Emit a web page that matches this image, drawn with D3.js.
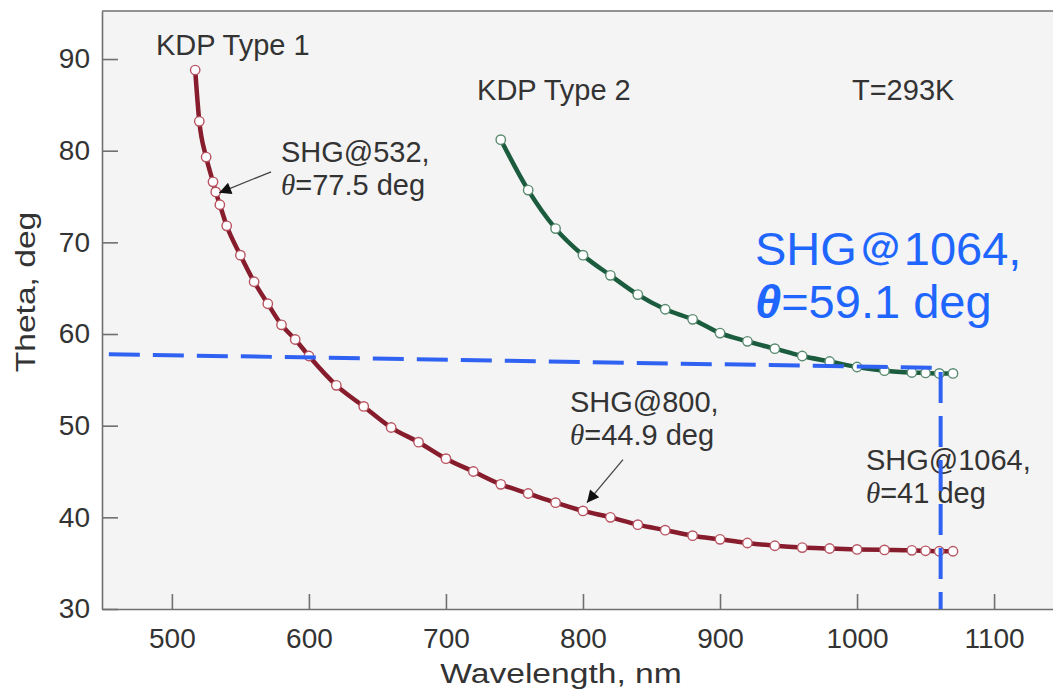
<!DOCTYPE html>
<head>
<meta charset="utf-8">
<style>
body, html {
  margin: 0;
  background: #fff;
  font-family: "Liberation Sans", Arial, sans-serif;
}
.axis path, .axis line {
  stroke: #707070;
  stroke-width: 1.6;
}
.axis text {
  font-size: 28px;
  fill: #333;
  font-family: "Liberation Sans", Arial, sans-serif;
}
.note {
  font-size: 29px;
  fill: #333;
}
.title {
  font-size: 28px;
  fill: #333;
}
.theta {
  font-family: "Liberation Serif", serif;
  font-style: italic;
}
.blue {
  font-size: 47px;
  fill: #1f66ff;
}
</style>
<script src="https://d3js.org/d3.v7.min.js"></script>
</head>
<body>
<script>

// ---- data ----
var type1Wl = [517, 520, 525, 530, 532, 535, 540, 550, 560, 570, 580, 590, 600, 620, 640, 660, 680, 700,
               720, 740, 760, 780, 800, 820, 840, 860, 880, 900, 920, 940, 960, 980, 1000, 1020, 1040, 1050, 1060, 1070];
var type1Theta = [88.8, 83.2, 79.3, 76.6, 75.5, 74.1, 71.8, 68.6, 65.7, 63.3, 61.0, 59.4, 57.6, 54.4, 52.1, 49.8, 48.2, 46.4,
                  45.0, 43.6, 42.6, 41.6, 40.7, 40.0, 39.2, 38.6, 38.0, 37.6, 37.2, 36.9, 36.7, 36.6, 36.5, 36.45, 36.4, 36.35, 36.3, 36.3];

var type2Wl = [740, 760, 780, 800, 820, 840, 860, 880, 900, 920, 940, 960, 980, 1000, 1020, 1040, 1050, 1060, 1070];
var type2Theta = [81.2, 75.7, 71.5, 68.6, 66.4, 64.3, 62.7, 61.6, 60.1, 59.2, 58.4, 57.6, 57.0, 56.4, 56.0, 55.8, 55.75, 55.7, 55.7];

var xTicks = [500, 600, 700, 800, 900, 1000, 1100];
var yTicks = [30, 40, 50, 60, 70, 80, 90];

// reading guide (blue dashes), in wavelength / theta
var guideWl = [454, 1061, 1061];
var guideTheta = [57.8, 56.3, 30];

// text notes: [wavelength, theta] of the first baseline
var notes = [
  {wl: 488.4, th: 90.4, lines: ["KDP Type 1"]},
  {wl: 722.7, th: 85.5, lines: ["KDP Type 2"]},
  {wl: 996.3, th: 85.5, lines: ["T=293K"]},
  {wl: 579.6, th: 78.8, lines: ["SHG@532,", "=77.5 deg"]},
  {wl: 790.5, th: 51.5, lines: ["SHG@800,", "=44.9 deg"]},
  {wl: 1006.5, th: 45.2, lines: ["SHG@1064,", "=41 deg"]}
];
var arrows = [
  {from: [572.4, 77.7], to: [534.5, 75.4]},
  {from: [829.2, 46.3], to: [802.9, 41.6]}
];

// ---- layout ----
var width = 1053, height = 693;
var plotL = 102, plotR = 1053, plotT = 11, plotB = 609;

var x = d3.scaleLinear().domain([449, 1143]).range([plotL, plotR]);
var y = d3.scaleLinear().domain([30, 95.24]).range([plotB, plotT]);

var svg = d3.select("body").append("svg")
    .attr("width", width)
    .attr("height", height);

svg.append("rect")
    .attr("x", plotL).attr("y", plotT)
    .attr("width", plotR - plotL).attr("height", plotB - plotT)
    .attr("fill", "#f4f4f4");

svg.append("line")
    .attr("x1", plotL).attr("x2", plotR)
    .attr("y1", plotT).attr("y2", plotT)
    .attr("stroke", "#707070").attr("stroke-width", 1.6);

svg.append("g")
    .attr("class", "axis")
    .attr("transform", "translate(0," + plotB + ")")
    .call(d3.axisBottom(x).tickValues(xTicks).tickFormat(d3.format("d"))
          .tickSizeInner(-15).tickSizeOuter(0).tickPadding(19));

svg.append("g")
    .attr("class", "axis")
    .attr("transform", "translate(" + plotL + ",0)")
    .call(d3.axisLeft(y).tickValues(yTicks).tickFormat(d3.format("d"))
          .tickSizeInner(-16).tickSizeOuter(0).tickPadding(12));

// titles are a bit stretched along their length in the original
svg.append("text")
    .attr("class", "title")
    .attr("transform", "translate(561,683) scale(1.2,1)")
    .attr("text-anchor", "middle")
    .text("Wavelength, nm");

svg.append("text")
    .attr("class", "title")
    .attr("transform", "translate(35,292) rotate(-90) scale(1.2,1)")
    .attr("text-anchor", "middle")
    .text("Theta, deg");

// ---- curves ----
function drawSeries(wl, th, lineColor, markColor) {
  var pts = wl.map(function(d, i) { return [d, th[i]]; });
  var line = d3.line()
      .x(function(d) { return x(d[0]); })
      .y(function(d) { return y(d[1]); })
      .curve(d3.curveMonotoneX);

  svg.append("path")
      .datum(pts)
      .attr("fill", "none")
      .attr("stroke", lineColor)
      .attr("stroke-width", 4.5)
      .attr("d", line);

  svg.append("g").selectAll("circle")
      .data(pts)
      .enter().append("circle")
      .attr("cx", function(d) { return x(d[0]); })
      .attr("cy", function(d) { return y(d[1]); })
      .attr("r", 4.7)
      .attr("fill", "#fff")
      .attr("stroke", markColor)
      .attr("stroke-width", 1.4);
}

drawSeries(type1Wl, type1Theta, "#861c2c", "#b85462");
drawSeries(type2Wl, type2Theta, "#1b5c3f", "#5a8a70");

// ---- notes and arrows ----
svg.append("defs").append("marker")
    .attr("id", "head")
    .attr("viewBox", "0 0 10 10")
    .attr("refX", 10).attr("refY", 5)
    .attr("markerWidth", 15).attr("markerHeight", 12)
    .attr("markerUnits", "userSpaceOnUse")
    .attr("orient", "auto")
  .append("path")
    .attr("d", "M0,0L10,5L0,10Z")
    .attr("fill", "#111");

arrows.forEach(function(a) {
  svg.append("line")
      .attr("x1", x(a.from[0])).attr("y1", y(a.from[1]))
      .attr("x2", x(a.to[0])).attr("y2", y(a.to[1]))
      .attr("stroke", "#444")
      .attr("stroke-width", 1.3)
      .attr("marker-end", "url(#head)");
});

notes.forEach(function(n) {
  var t = svg.append("text")
      .attr("class", "note")
      .attr("x", x(n.wl))
      .attr("y", y(n.th));
  n.lines.forEach(function(s, i) {
    if (i === 0) {
      t.append("tspan").attr("x", x(n.wl)).text(s);
    } else {
      t.append("tspan").attr("x", x(n.wl)).attr("dy", 33).attr("class", "theta").text("\u03b8");
      t.append("tspan").text(s);
    }
  });
});

// blue reading guide
var guide = guideWl.map(function(d, i) { return [d, guideTheta[i]]; });
svg.append("path")
    .datum(guide)
    .attr("fill", "none")
    .attr("stroke", "#2f62f2")
    .attr("stroke-width", 4)
    .attr("stroke-dasharray", "31,13")
    .attr("d", d3.line().x(function(d) { return x(d[0]); }).y(function(d) { return y(d[1]); }));

var bt = svg.append("text")
    .attr("class", "blue")
    .attr("x", x(925.5))
    .attr("y", y(67.5));
bt.append("tspan").attr("x", x(925.5)).text("SHG\uff20" + "1064,");
bt.append("tspan").attr("x", x(925.5)).attr("dy", 53)
    .attr("font-style", "italic").attr("font-weight", "bold").text("\u03b8");
bt.append("tspan").text("=59.1 deg");

</script>
</body>
</html>
